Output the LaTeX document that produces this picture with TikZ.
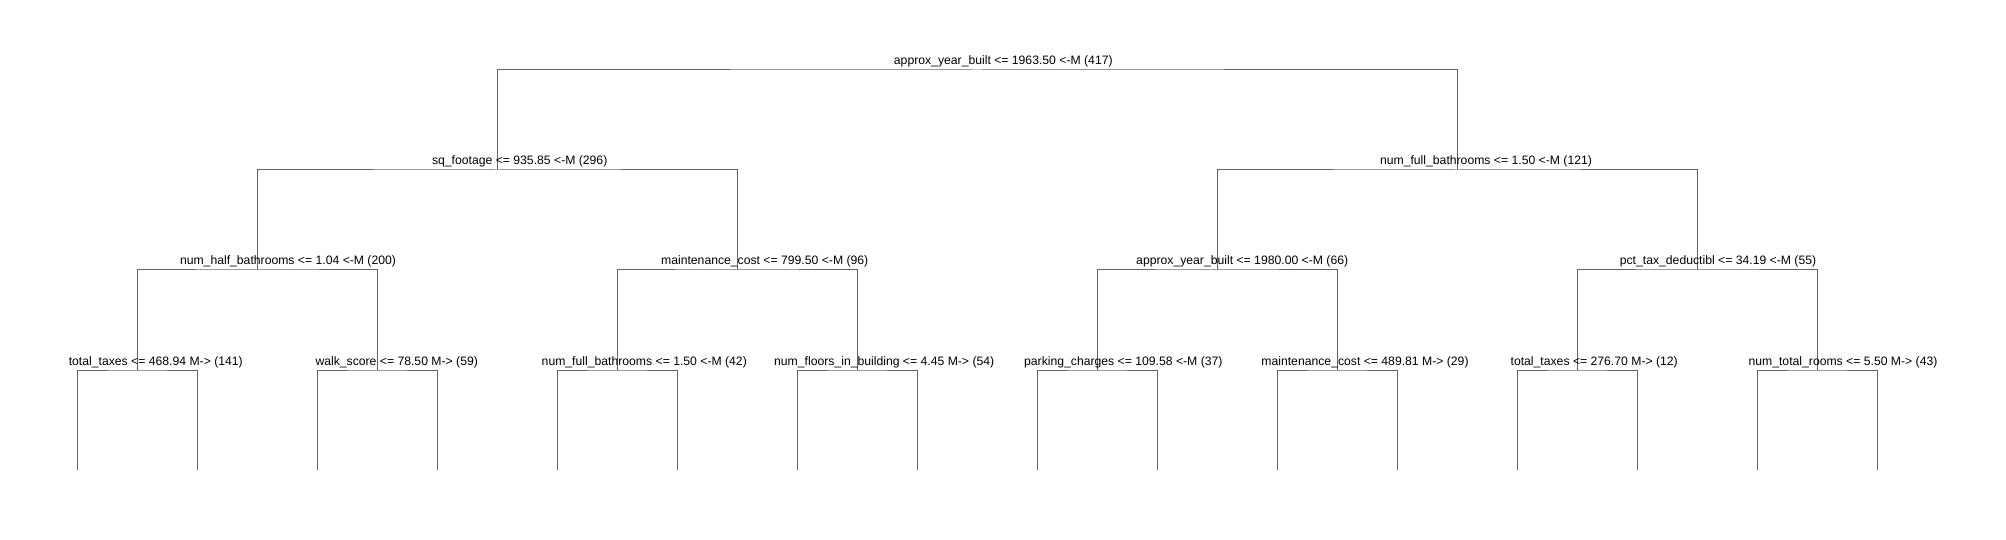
\documentclass[tikz,border=0pt]{standalone}
\usepackage{fontspec}
\setmainfont{Liberation Sans}
\definecolor{treeline}{RGB}{100,100,100}
\tikzset{
  branch/.style={draw=treeline,line width=1pt},
  splitlabel/.style={anchor=base,inner sep=0pt,font=\fontsize{12.2}{14}\selectfont}
}
\begin{document}
\begin{tikzpicture}[x=1pt,y=-1pt]
  \useasboundingbox (0,0) rectangle (2006,540);

        \begin{scope}
          \coordinate (n1)  at (977,70);
          \coordinate (n2)  at (497,170);
          \coordinate (n3)  at (1457,170);
          \coordinate (n4)  at (257,270);
          \coordinate (n5)  at (737,270);
          \coordinate (n6)  at (1217,270);
          \coordinate (n7)  at (1697,270);
          \coordinate (n8)  at (137,370);
          \coordinate (n9)  at (377,370);
          \coordinate (n10) at (617,370);
          \coordinate (n11) at (857,370);
          \coordinate (n12) at (1097,370);
          \coordinate (n13) at (1337,370);
          \coordinate (n14) at (1577,370);
          \coordinate (n15) at (1817,370);
          \coordinate (n16) at (77,470);
          \coordinate (n17) at (197,470);
          \coordinate (n18) at (317,470);
          \coordinate (n19) at (437,470);
          \coordinate (n20) at (557,470);
          \coordinate (n21) at (677,470);
          \coordinate (n22) at (797,470);
          \coordinate (n23) at (917,470);
          \coordinate (n24) at (1037,470);
          \coordinate (n25) at (1157,470);
          \coordinate (n26) at (1277,470);
          \coordinate (n27) at (1397,470);
          \coordinate (n28) at (1517,470);
          \coordinate (n29) at (1637,470);
          \coordinate (n30) at (1757,470);
          \coordinate (n31) at (1877,470);
        \end{scope}

        \begin{scope}[every path/.style={branch}]
          \path (n2)  |- (n1)  -| (n3);
          \path (n4)  |- (n2)  -| (n5);
          \path (n6)  |- (n3)  -| (n7);
          \path (n8)  |- (n4)  -| (n9);
          \path (n10) |- (n5)  -| (n11);
          \path (n12) |- (n6)  -| (n13);
          \path (n14) |- (n7)  -| (n15);
          \path (n16) |- (n8)  -| (n17);
          \path (n18) |- (n9)  -| (n19);
          \path (n20) |- (n10) -| (n21);
          \path (n22) |- (n11) -| (n23);
          \path (n24) |- (n12) -| (n25);
          \path (n26) |- (n13) -| (n27);
          \path (n28) |- (n14) -| (n29);
          \path (n30) |- (n15) -| (n31);
        \end{scope}

        \begin{scope}[every node/.style={splitlabel}]
          \node (t1)  at (1003.3,65) {approx\_year\_built <= 1963.50 <-M (417)};
          \node (t2)  at (519.7,165)  {sq\_footage <= 935.85 <-M (296)};
          \node (t3)  at (1486,165)   {num\_full\_bathrooms <= 1.50 <-M (121)};
          \node (t4)  at (288,265)    {num\_half\_bathrooms <= 1.04 <-M (200)};
          \node (t5)  at (764.7,265)  {maintenance\_cost <= 799.50 <-M (96)};
          \node (t6)  at (1242.2,265) {approx\_year\_built <= 1980.00 <-M (66)};
          \node (t7)  at (1718,265)   {pct\_tax\_deductibl <= 34.19 <-M (55)};
          \node (t8)  at (155.8,365)  {total\_taxes <= 468.94 M-> (141)};
          \node (t9)  at (396.7,365)  {walk\_score <= 78.50 M-> (59)};
          \node (t10) at (644.3,365)  {num\_full\_bathrooms <= 1.50 <-M (42)};
          \node (t11) at (884.2,365)  {num\_floors\_in\_building <= 4.45 M-> (54)};
          \node (t12) at (1123.3,365) {parking\_charges <= 109.58 <-M (37)};
          \node (t13) at (1365,365)   {maintenance\_cost <= 489.81 M-> (29)};
          \node (t14) at (1594.2,365) {total\_taxes <= 276.70 M-> (12)};
          \node (t15) at (1843,365)   {num\_total\_rooms <= 5.50 M-> (43)};
        \end{scope}

\end{tikzpicture}
\end{document}
